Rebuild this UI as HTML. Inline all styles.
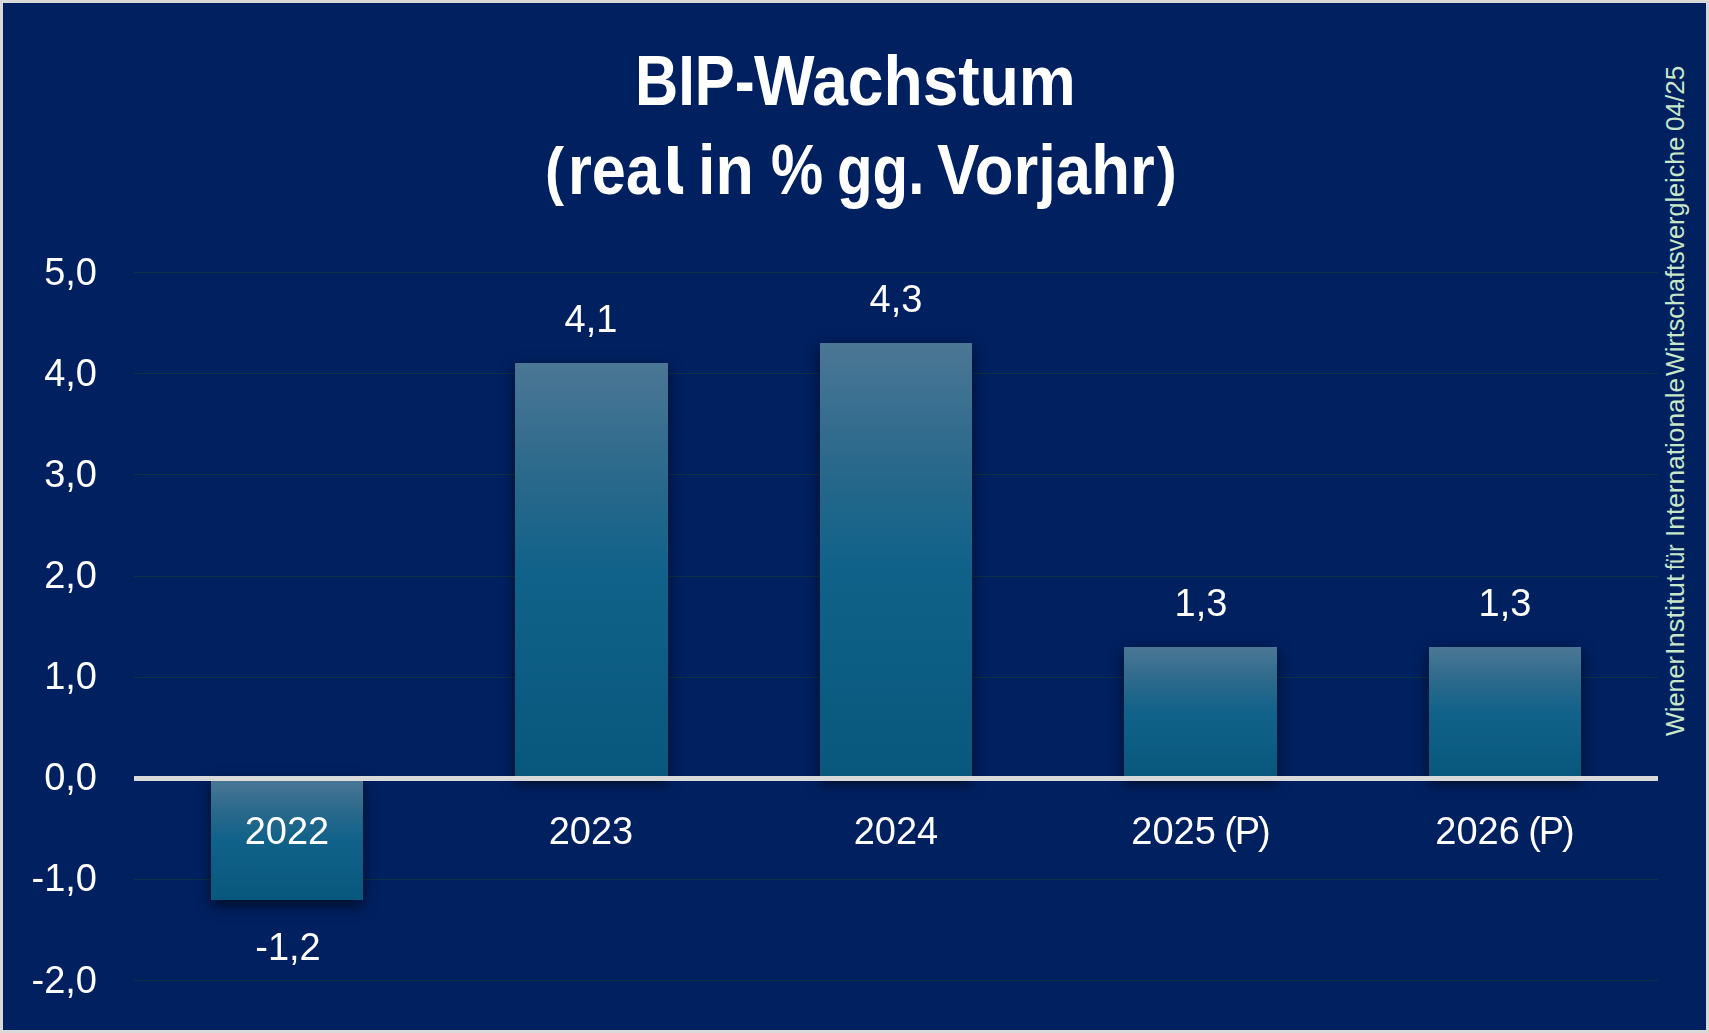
<!DOCTYPE html>
<html>
<head>
<meta charset="utf-8">
<title>BIP-Wachstum</title>
<style>
html,body{margin:0;padding:0;}
body{width:1709px;height:1033px;overflow:hidden;background:#d9d9d9;font-family:"Liberation Sans",sans-serif;position:relative;}
#frame{display:none;}
#bg{position:absolute;left:3px;top:3px;width:1703px;height:1027px;background:#002060;}
.grid{position:absolute;left:134px;width:1524px;height:1px;background:#0f3045;}
.ylab,.xlab,.dlab{will-change:transform;}
.ylab{position:absolute;left:0;width:97px;text-align:right;color:#fff;font-size:38px;line-height:40px;height:40px;white-space:nowrap;}
.bar{position:absolute;width:153px;background:linear-gradient(to bottom,#4c7694 0%,#3f7293 10%,#346d8e 19%,#27688b 30%,#11628a 50%,#08587d 100%);box-shadow:0 5px 13px 0 rgba(0,0,0,0.62);}
#axis{position:absolute;left:134px;top:776px;width:1524px;height:5px;background:#d9d9d9;}
.xlab,.dlab{position:absolute;width:300px;text-align:center;color:#fff;font-size:38px;line-height:40px;height:40px;white-space:nowrap;}
.p{letter-spacing:-2.1px;}
#title{position:absolute;left:0;top:0;width:1709px;color:#fff;font-weight:bold;text-align:center;}
#title .w{position:absolute;font-size:70px;line-height:70px;height:70px;white-space:nowrap;transform-origin:0 0;}
#src{position:absolute;left:1675px;top:736px;color:#c6e7c8;font-size:26.5px;line-height:30px;height:30px;white-space:nowrap;transform-origin:0 0;transform:rotate(-90deg) translate(0,-50%);}
#src span{position:absolute;top:0;display:block;transform-origin:0 50%;}
</style>
</head>
<body>
<div id="frame"></div>
<div id="bg"></div>

<div class="grid" style="top:272px"></div>
<div class="grid" style="top:373px"></div>
<div class="grid" style="top:474px"></div>
<div class="grid" style="top:576px"></div>
<div class="grid" style="top:677px"></div>
<div class="grid" style="top:879px"></div>
<div class="grid" style="top:980px"></div>

<div class="ylab" style="top:251.5px">5,0</div>
<div class="ylab" style="top:352.6px">4,0</div>
<div class="ylab" style="top:453.8px">3,0</div>
<div class="ylab" style="top:554.9px">2,0</div>
<div class="ylab" style="top:656.1px">1,0</div>
<div class="ylab" style="top:757.2px">0,0</div>
<div class="ylab" style="top:858.3px">-1,0</div>
<div class="ylab" style="top:959.5px">-2,0</div>

<div class="bar" style="left:211px;width:152px;top:778px;height:122px"></div>
<div class="bar" style="left:515px;top:363px;height:415px"></div>
<div class="bar" style="left:820px;width:152px;top:343px;height:435px"></div>
<div class="bar" style="left:1124px;top:647px;height:131px"></div>
<div class="bar" style="left:1429px;width:152px;top:647px;height:131px"></div>

<div id="axis"></div>

<div class="xlab" style="left:137px;top:811px">2022</div>
<div class="xlab" style="left:441px;top:811px">2023</div>
<div class="xlab" style="left:746px;top:811px">2024</div>
<div class="xlab" style="left:1049.8px;top:811px">2025<span class="p"> (P)</span></div>
<div class="xlab" style="left:1354.4px;top:811px">2026<span class="p"> (P)</span></div>

<div class="dlab" style="left:137.6px;top:926.8px">-1,2</div>
<div class="dlab" style="left:441px;top:299px">4,1</div>
<div class="dlab" style="left:746px;top:279px">4,3</div>
<div class="dlab" style="left:1051px;top:583px">1,3</div>
<div class="dlab" style="left:1355px;top:583px">1,3</div>

<div id="title">
<div class="w" style="left:635.0px;top:46.4px;transform:scaleX(0.8544)">BIP-</div>
<div class="w" style="left:753.5px;top:46.4px;transform:scaleX(0.9161)">Wachstum</div>
<div class="w" style="left:545.1px;top:136.4px;font-size:64.8px;transform:scaleX(0.88)">(</div>
<div class="w" style="left:568.0px;top:135.3px;transform:scaleX(0.8750)">rea</div>
<svg style="position:absolute;left:660px;top:140px" width="30" height="60" viewBox="660 140 30 60"><path fill="#fff" d="M668 146H677.7V181Q677.7 186.5 683.1 186.5V194H679Q668 194 668 183Z"/></svg>
<div class="w" style="left:698.0px;top:135.3px;transform:scaleX(0.8968)">in</div>
<div class="w" style="left:770.6px;top:135.3px;transform:scaleX(0.8380)">%</div>
<div class="w" style="left:837.0px;top:135.3px;transform:scaleX(0.8322)">gg.</div>
<div class="w" style="left:937.0px;top:135.3px;transform:scaleX(0.9074)">Vorjahr</div>
<div class="w" style="left:1157.3px;top:136.4px;font-size:64.8px;transform:scaleX(0.92)">)</div>
</div>

<div id="src">
<span style="left:0.0px;transform:scaleX(0.9510)">Wiener</span>
<span style="left:81.4px;transform:scaleX(1.0330)">Institut</span>
<span style="left:166.0px;transform:scaleX(0.8290)">für</span>
<span style="left:199.1px;transform:scaleX(0.9906)">Internationale</span>
<span style="left:359.9px;transform:scaleX(0.9500)">Wirtschaftsvergleiche</span>
<span style="left:605.1px;transform:scaleX(0.9840)">04/25</span>
</div>
</body>
</html>
